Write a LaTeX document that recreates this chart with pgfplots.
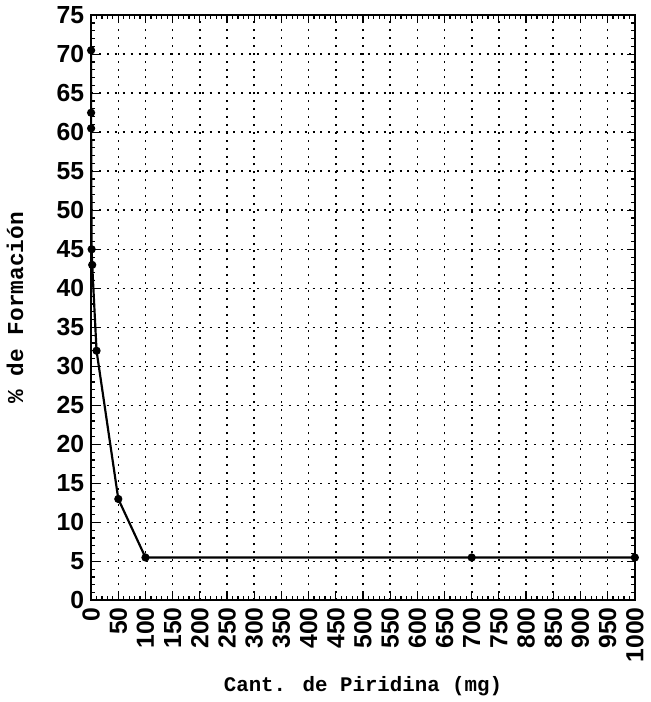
\documentclass[border=0pt]{standalone}
\usepackage{pgfplots}
\pgfplotsset{compat=1.18}
\usepackage{fontspec}
\setmainfont{Liberation Sans}
\newfontfamily\monof{Liberation Mono}
\begin{document}
\begin{tikzpicture}
\begin{axis}[
  scale only axis,
  width=275pt, height=296pt,
  xmin=0, xmax=1000, ymin=0, ymax=75,
  xtick={0,50,...,1000}, ytick={0,5,...,75},
  minor x tick num=4, minor y tick num=4,
  tick align=inside,
  major tick length=4pt, minor tick length=2pt,
  grid=major,
  major grid style={black, dash pattern=on 1pt off 3pt, line width=0.8pt},
  axis line style={line width=1pt},
  tick style={black, line width=0.6pt},
  /pgf/number format/assume math mode=true,
  /pgf/number format/1000 sep={},
  xticklabel style={rotate=90, anchor=east, font=\fontsize{12.5}{13}\selectfont\bfseries},
  yticklabel style={font=\fontsize{12.5}{13}\selectfont\bfseries},
  xlabel={\monof\bfseries Cant. de Piridina (mg)},
  ylabel={\monof\bfseries \% de Formación},
  xlabel style={font=\fontsize{10.5}{12}\selectfont, yshift=0pt},
  ylabel style={font=\fontsize{11.5}{12}\selectfont, yshift=10pt},
]
\addplot[black, line width=1.1pt, mark=*, mark size=1.5pt] coordinates {
 (0,70.5) (0,62.5) (0,60.5) (1,45) (2,43) (10,32) (50,13) (100,5.5) (700,5.5) (1000,5.5)
};
\end{axis}
\end{tikzpicture}
\end{document}
